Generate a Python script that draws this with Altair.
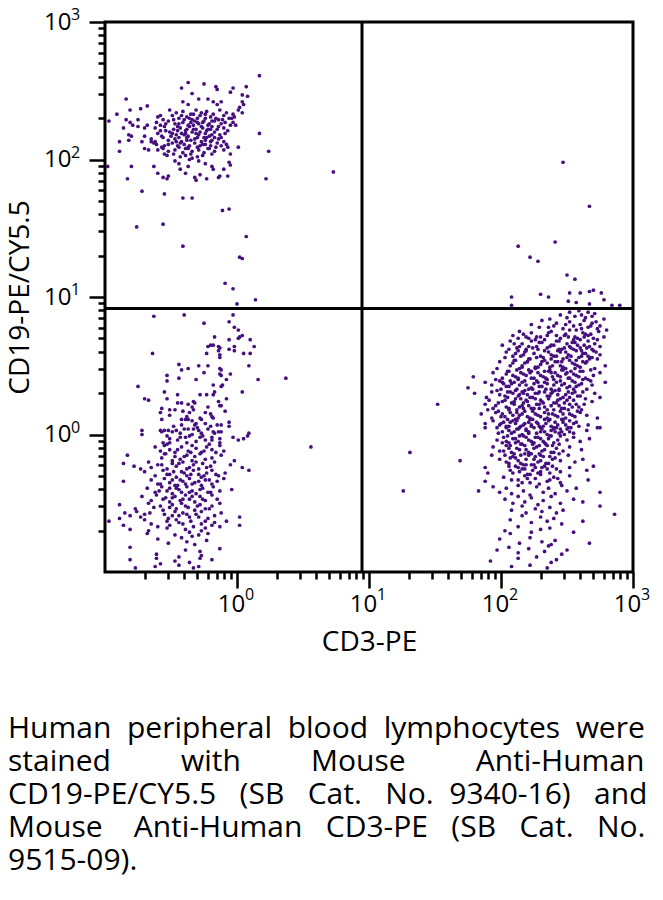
import altair as alt
import pandas as pd

# ---- data: log10 fluorescence x100, pairs (CD3-PE, CD19-PE/CY5.5) ----
b_cells = [
    (17,261),(-37,256),(-25,255),(-16,253),(-15,251),(-3,252),(7,253),(-42,252),(-34,248),(-5,249),(4,247),(8,246),
    (-84,244),(-41,242),(-37,240),(-29,244),(-22,244),(-18,242),(-15,240),(-12,242),(-68,239),(-73,237),(-81,236),
    (-91,233),(-97,228),(4,242),(5,240),(1,236),(2,238),(4,234),(-3,233),(-2,231),(-3,227),(-1,225),(17,219),(24,206),
    (1,209),(22,186),(-98,195),(-83,186),(-80,195),(-72,177),(-55,175),(-41,172),(-34,172),(-6,164),(-89,213),(-89,206),
    (-86,223),(-84,229),(-81,227),(-79,225),(-75,229),(-75,224),(-82,218),(-82,214),(-80,217),(-70,223),(-68,225),
    (-70,217),(-72,213),(-63,195),(-60,190),(-56,187),(-53,186),(-52,188),(-70,208),(-67,207),(-63,212),(-65,213),
    (-60,207),(-57,209),(-55,204),(-47,199),(-44,197),(-43,193),(-37,195),(-32,187),(-28,189),(-23,186),(-31,185),
    (-39,190),(-36,200),(-34,201),(-29,199),(-24,197),(-19,195),(-18,193),(-14,187),(-13,188),(-10,193),(-6,198),
    (-5,196),(-7,188),(-10,207),(-7,209),(-5,204),
    (-51,236),(-46,234),(-41,235),(-35,233),(-31,236),(-27,234),(-23,235),(-18,233),(-13,236),(-8,234),
    (-60,231),(-56,229),(-49,232),(-44,230),(-38,231),(-34,229),(-28,232),(-24,230),(-20,231),(-14,229),(-10,232),(-6,230),
    (-61,227),(-58,225),(-52,228),(-47,226),(-41,227),(-37,225),(-32,228),(-29,226),(-26,227),(-22,225),(-17,228),
    (-12,226),(-9,227),(-5,225),
    (-62,223),(-58,221),(-55,224),(-48,222),(-43,223),(-39,221),(-36,224),(-31,222),(-26,223),(-23,221),(-19,224),
    (-15,222),(-10,223),(-7,221),
    (-60,219),(-57,217),(-51,220),(-46,218),(-42,219),(-37,217),(-34,220),(-29,218),(-24,219),(-21,217),(-17,220),
    (-13,218),(-9,219),
    (-65,215),(-62,213),(-56,216),(-52,214),(-47,215),(-42,213),(-38,216),(-35,214),(-32,215),(-27,213),(-23,216),
    (-19,214),(-14,215),(-10,213),
    (-61,211),(-55,210),(-49,212),(-45,210),(-40,211),(-36,210),(-32,212),(-28,210),(-24,211),(-20,210),(-15,212),(-12,210),
    (-56,208),(-52,206),(-47,207),(-41,205),(-37,208),(-34,206),(-29,207),(-25,205),(-21,208),(-17,206),
    (-53,203),(-48,204),(-43,202),(-39,203),(-35,204),(-30,202),(-26,203),(-19,204),
    (-44,226),(-40,229),(-35,227),(-30,230),(-25,228),(-21,226),(-16,230),(-45,221),(-40,218),(-33,222),(-28,220),
    (-22,222),(-17,216),(-43,212),(-38,214),(-30,216),(-26,211),(-20,213),(-50,217),(-54,221),(-33,233),(-37,209),
    (-22,208),(-44,209),
    (-48,229),(-42,232),(-36,230),(-30,227),(-24,233),(-19,228),(-11,229),(-54,226),(-45,224),(-38,222),(-33,225),
    (-27,224),(-20,222),(-14,224),(-49,219),(-44,216),(-39,219),(-31,219),(-25,216),(-19,218),(-12,216),(-52,211),
    (-46,213),(-39,208),(-30,209),(-24,214),(-16,209),(-8,211),(-58,232),(-4,230),
    (7,144),(2,129),(4,128),(-3,106),(14,98),(0,95),(-76,151),(-56,153),(-41,137),(-11,163),(-9,110),(73,191),
]

double_negative = [
    (-63,86),(-40,87),(-3,87),(-25,81),(-6,82),(-2,78),(1,76),(2,71),(4,72),(-17,71),(1,70),(-6,69),(10,69),(-20,65),
    (-18,65),(-22,64),(-14,64),(-13,63),(-6,62),(-2,61),(-2,64),(-14,61),(-13,58),(-13,56),(-23,59),(5,59),(10,59),
    (13,64),(-64,59),(-44,51),(-42,47),(-37,48),(-29,50),(-22,50),(-25,45),(-13,48),(-12,47),(-13,44),(-12,43),(-5,44),
    (-8,40),(9,50),(16,40),(-53,43),(-53,39),(-44,41),(-31,40),(-18,36),(-11,36),(-12,35),(-75,35),(-55,31),(-17,31),
    (4,31),(-70,26),(-67,25),(-53,26),(-45,29),(-45,23),(-42,23),(-37,22),(-33,24),(-32,23),(-28,29),(-23,29),(-18,29),
    (-8,26),(-14,24),(-13,21),(-57,19),(-51,18),(-47,18),(-58,16),(-41,17),(-33,18),(-34,20),(-22,20),(-24,16),(-12,21),
    (-9,17),(-51,14),(-38,13),(-36,16),(-28,12),(-27,11),(-20,15),(-19,13),(-18,12),(-57,11),(-42,11),(-39,11),(-37,11),
    (-34,10),(-32,7),(-31,8),(-42,7),(-24,8),(-20,6),(-15,7),(-12,7),(-6,9),(-6,6),(-72,3),(-58,3),(-55,3),(-52,3),
    (-49,2),(-46,3),(-37,4),(-33,4),(-27,1),(-18,2),(-14,2),(-12,2),(9,1),
    (-72,0),(-57,2),(-53,-1),(-51,-3),(-43,1),(-39,-2),(-34,0),(-29,3),(-26,-1),(-19,-2),(-17,1),(-13,-3),(-3,-2),
    (1,-4),(5,-3),(8,-1),(-56,-6),(-53,-7),(-51,-6),(-43,-2),(-36,-1),(-31,-5),(-24,-4),(-19,-4),(-13,-6),
    (-62,-9),(-58,-12),(-55,-8),(-51,-11),(-47,-13),(-42,-9),(-37,-12),(-34,-8),(-31,-10),(-27,-13),(-23,-9),(-19,-11),
    (-13,-8),(-10,-12),
    (-83,-15),(-57,-17),(-55,-14),(-49,-19),(-47,-16),(-43,-18),(-38,-15),(-34,-19),(-32,-16),(-28,-14),(-24,-18),
    (-19,-17),(-12,-15),(-2,-19),
    (-86,-21),(-78,-23),(-73,-25),(-67,-20),(-65,-24),(-60,-22),(-53,-25),(-49,-21),(-46,-23),(-41,-20),(-36,-24),
    (-33,-22),(-29,-25),(-26,-21),(-20,-23),(-17,-20),(-5,-22),(4,-24),(9,-26),
    (-70,-27),(-62,-30),(-56,-26),(-51,-29),(-46,-31),(-42,-27),(-38,-30),(-33,-26),(-29,-29),(-27,-31),(-23,-28),
    (-19,-26),(-14,-30),(-9,-28),
    (-86,-34),(-65,-33),(-58,-36),(-55,-32),(-51,-35),(-47,-37),(-43,-33),(-39,-36),(-36,-32),(-32,-35),(-27,-37),
    (-24,-33),(-19,-36),(-15,-34),(-10,-32),
    (-68,-39),(-62,-42),(-57,-38),(-53,-41),(-49,-43),(-46,-39),(-42,-42),(-38,-38),(-34,-41),(-31,-43),(-26,-39),
    (-22,-42),(-18,-38),(-13,-41),(-4,-40),
    (-72,-45),(-65,-48),(-61,-44),(-56,-47),(-51,-49),(-47,-45),(-43,-48),(-39,-44),(-36,-47),(-32,-49),(-28,-45),
    (-24,-48),(-19,-44),(-15,-47),
    (-89,-51),(-77,-54),(-67,-50),(-63,-53),(-56,-55),(-49,-51),(-46,-54),(-42,-50),(-37,-53),(-32,-55),(-28,-51),
    (-24,-54),(-19,-52),(-13,-50),
    (-89,-61),(-85,-57),(-81,-59),(-76,-56),(-73,-60),(-70,-58),(-66,-57),(-52,-61),(-47,-56),(-44,-59),(-41,-57),
    (-36,-60),(-31,-58),(-27,-56),(-22,-61),(-17,-59),(-12,-57),(2,-60),
    (-97,-63),(-86,-66),(-70,-62),(-65,-65),(-60,-67),(-53,-63),(-51,-66),(-46,-62),(-41,-65),(-33,-67),(-24,-63),
    (-19,-66),(-17,-64),(-13,-67),(-8,-63),(2,-66),
    (-81,-69),(-68,-72),(-67,-70),(-53,-68),(-47,-73),(-39,-69),(-36,-71),(-29,-73),(-27,-70),(-24,-68),(-22,-72),
    (-60,-76),(-52,-79),(-42,-75),(-38,-78),(-34,-74),(-32,-80),(-23,-77),
    (-81,-82),(-61,-87),(-39,-84),(-28,-85),(-27,-88),(-13,-83),
    (-81,-91),(-61,-90),(-58,-94),(-47,-92),(-44,-89),(-36,-93),(-28,-90),(-19,-91),(-77,-97),(-62,-96),(-44,-95),
    (-33,-97),(-29,-96),
    (-48,6),(-40,4),(-30,5),(-22,4),(-45,-4),(-38,-6),(-28,-2),(-21,-7),(-54,-14),(-45,-11),(-40,-16),(-35,-13),
    (-25,-12),(-16,-13),(-57,-22),(-44,-21),(-38,-25),(-31,-20),(-23,-24),(-53,-29),(-48,-27),(-40,-28),(-35,-29),
    (-25,-30),(-16,-29),(-60,-36),(-49,-33),(-45,-37),(-41,-34),(-34,-36),(-29,-34),(-21,-33),(-59,-41),(-51,-39),
    (-44,-40),(-36,-42),(-28,-40),(-20,-42),(-54,-46),(-49,-46),(-41,-47),(-34,-45),(-26,-47),(-58,-52),(-51,-53),
    (-39,-52),(-30,-52),(-21,-54),(-55,-58),(-49,-59),(-38,-58),(-29,-60),(-44,-64),(-35,-63),(-27,-65),
    (37,41),(56,-9),
]

t_cells = [
    (208,100),(230,102),(252,103),(260,103),(267,104),(270,105),(276,103),(208,94),(251,97),(257,96),(267,95),
    (278,98),(284,94),(290,94),(247,198),(267,166),(241,140),(213,137),(222,129),(228,126),(250,116),(256,113),(236,100),
    (252,89),(256,86),(259,90),(261,87),(264,85),(266,89),(269,86),(271,88),(237,84),(245,87),(250,85),(278,84),
    (223,80),(231,83),(236,78),(242,81),(247,77),(252,82),(255,79),(257,76),(260,80),(263,83),(266,78),(269,81),
    (273,77),(275,79),(280,76),
    (209,72),(214,75),(221,70),(223,74),(230,71),(233,69),(238,75),(242,72),(245,70),(249,73),(252,76),(256,71),
    (260,69),(262,74),(266,72),(270,70),(274,75),(278,71),
    (201,65),(207,68),(212,63),(216,66),(219,62),(223,68),(227,64),(231,67),(235,63),(238,65),(242,68),(246,62),
    (250,66),(252,64),(256,67),(260,63),(263,65),(266,68),(269,62),(271,66),(275,64),
    (204,60),(209,57),(213,61),(217,58),(221,55),(225,59),(228,62),(232,56),(236,60),(240,57),(243,61),(247,55),
    (251,58),(255,62),(259,56),(262,59),(266,57),(270,61),(273,55),(275,58),
    (199,53),(207,50),(211,54),(214,48),(218,52),(222,55),(226,49),(230,51),(233,54),(237,47),(241,53),(245,50),
    (249,48),(252,54),(256,51),(260,49),(264,52),(267,55),(271,48),(279,50),
    (179,42),(194,45),(201,41),(206,46),(209,43),(213,40),(217,44),(221,47),(225,41),(228,45),(232,42),(236,46),
    (240,40),(243,43),(247,47),(251,41),(255,44),(259,42),(262,46),(266,40),(270,43),(275,45),
    (175,34),(188,38),(193,36),(199,39),(204,35),(208,37),(212,33),(216,38),(219,36),(223,34),(227,39),(231,35),
    (235,37),(238,33),(242,38),(246,36),(250,34),(254,39),(257,35),(261,37),(265,33),(269,36),(279,38),
    (180,30),(189,27),(197,32),(203,28),(207,31),(211,26),(214,29),(218,32),(222,27),(226,30),(230,25),(233,31),
    (237,28),(241,32),(245,26),(249,29),(252,27),(256,31),(260,28),(264,26),(271,30),(275,27),
    (188,22),(194,19),(201,24),(204,20),(208,23),(212,18),(216,21),(219,25),(223,19),(227,22),(231,24),(235,18),
    (238,21),(242,23),(246,19),(250,25),(254,20),(257,22),(261,18),(269,24),
    (185,15),(193,12),(198,17),(203,13),(207,16),(211,11),(214,14),(218,17),(222,12),(226,15),(230,13),(233,16),
    (237,11),(241,14),(245,17),(249,12),(252,15),(256,13),(260,16),(265,14),(273,12),
    (188,8),(197,5),(202,9),(206,6),(209,10),(213,4),(217,7),(221,9),(225,5),(228,8),(232,6),(236,10),(240,4),
    (243,7),(247,9),(251,5),(255,8),(259,6),(266,7),(275,5),
    (217,73),(227,71),(236,74),(248,72),(258,70),(264,73),
    (210,66),(221,64),(229,67),(240,65),(248,63),(254,67),(258,65),(265,63),
    (211,59),(219,61),(230,57),(238,58),(245,60),(253,57),(257,61),(264,59),(268,56),
    (209,52),(216,50),(220,53),(228,49),(235,52),(239,50),(243,53),(247,49),(254,52),(258,50),(262,53),
    (204,44),(211,42),(215,45),(219,43),(223,46),(230,43),(234,41),(238,45),(245,42),(249,44),(253,46),(257,43),(264,41),
    (202,37),(206,35),(210,38),(214,36),(221,33),(225,37),(229,35),(233,38),(240,36),(244,33),(248,37),(252,35),(259,36),
    (199,29),(205,27),(209,30),(213,28),(216,31),(220,29),(224,27),(228,30),(235,28),(239,31),(243,29),(247,27),
    (254,30),(258,28),
    (196,21),(206,19),(210,22),(214,20),(217,23),(221,21),(225,19),(229,22),(233,20),(240,23),(244,21),(248,19),
    (252,22),(259,20),
    (200,13),(205,11),(209,14),(213,12),(216,15),(220,13),(224,11),(228,14),(235,12),(239,15),(243,13),(247,11),(254,14),
    (199,7),(204,5),(211,8),(215,6),(219,4),(223,7),(230,5),(234,8),(238,6),(245,4),(249,7),(253,5),
    (229,78),(240,79),(249,80),(261,77),(268,79),(272,82),
    (213,70),(219,71),(226,69),(235,72),(244,68),(251,71),(255,69),(263,71),(268,73),(273,69),
    (206,62),(214,64),(218,60),(224,63),(233,61),(237,64),(244,62),(249,60),(253,63),(261,61),(267,64),(272,60),
    (203,56),(210,54),(215,57),(220,53),(227,56),(231,53),(238,55),(242,57),(246,53),(250,56),(257,54),(261,57),
    (265,53),(269,56),
    (197,48),(205,46),(212,47),(216,49),(222,45),(226,48),(233,46),(237,49),(241,45),(246,47),(250,45),(256,48),
    (260,46),(268,47),
    (196,40),(201,38),(207,39),(213,41),(218,39),(223,41),(228,38),(235,40),(239,42),(245,39),(252,41),(256,38),
    (262,40),(268,39),
    (193,31),(200,33),(205,31),(211,32),(217,30),(224,33),(229,31),(234,33),(238,30),(244,32),(251,31),(255,33),(262,31),
    (191,25),(198,23),(203,25),(210,24),(215,26),(220,24),(226,26),(232,23),(236,26),(243,25),(248,23),(255,25),(263,22),
    (190,18),(196,16),(201,15),(206,18),(212,16),(217,19),(224,17),(229,19),(236,15),(240,18),(247,15),(251,18),(258,17),
    (194,10),(200,8),(207,9),(212,10),(218,8),(222,11),(227,9),(233,11),(241,9),(246,11),(252,10),(257,9),
    (198,1),(205,-1),(210,2),(214,-1),(221,1),(226,-2),(230,2),(237,-1),(241,2),(248,0),(252,2),
    (201,-6),(207,-8),(211,-6),(218,-8),(224,-7),(229,-8),(233,-6),(239,-8),(244,-7),
    (203,-15),(207,-17),(215,-15),(218,-14),(226,-16),(230,-15),(237,-16),(244,-14),
    (206,-23),(213,-24),(219,-22),(225,-22),(231,-24),(239,-23),
    (208,-33),(216,-35),(220,-32),(229,-36),(237,-33),(243,-32),
    (188,5),(201,2),(204,6),(208,1),(212,4),(216,0),(219,3),(223,6),(227,1),(231,4),(235,0),(238,3),(242,5),(246,2),
    (250,4),(255,1),(265,3),(273,5),
    (180,-1),(197,-4),(202,-2),(206,-6),(209,-3),(213,-5),(217,-1),(221,-4),(225,-6),(228,-2),(232,-5),(236,-3),
    (240,-6),(245,-1),(250,-4),(255,-2),(260,-5),(267,-3),
    (194,-9),(199,-12),(204,-8),(208,-13),(212,-10),(216,-7),(219,-11),(223,-14),(227,-9),(231,-12),(235,-8),
    (238,-13),(242,-10),(247,-12),(252,-9),(261,-11),
    (169,-19),(193,-15),(199,-18),(206,-21),(209,-16),(213,-19),(217,-22),(221,-15),(225,-18),(228,-20),(232,-16),
    (236,-21),(241,-17),(245,-19),(251,-15),(256,-20),(262,-18),
    (188,-24),(190,-28),(207,-26),(211,-23),(214,-27),(218,-25),(222,-29),(226,-24),(230,-27),(233,-23),(237,-28),
    (242,-25),(245,-27),(252,-24),(265,-26),(270,-23),
    (188,-34),(202,-31),(213,-33),(218,-30),(222,-35),(226,-32),(230,-29),(235,-34),(240,-31),(245,-35),(252,-30),(266,-33),
    (183,-41),(194,-38),(199,-42),(204,-39),(208,-43),(213,-37),(217,-41),(222,-44),(227,-38),(232,-42),(236,-39),
    (241,-43),(246,-37),(250,-41),(257,-39),(275,-42),
    (203,-47),(209,-50),(213,-45),(218,-49),(223,-46),(228,-51),(232,-48),(238,-45),(245,-50),(255,-47),(262,-49),(275,-52),
    (208,-55),(216,-52),(219,-57),(226,-54),(231,-56),(237,-53),(242,-57),(247,-55),(286,-58),
    (207,-62),(216,-59),(223,-64),(230,-60),(235,-63),(240,-61),(246,-65),(262,-63),
    (203,-70),(207,-72),(213,-67),(223,-71),(230,-69),(237,-68),(255,-71),
    (199,-76),(214,-79),(222,-75),(231,-78),(238,-80),(241,-77),(267,-79),
    (197,-84),(206,-82),(213,-86),(221,-83),(233,-85),(236,-81),(246,-87),(250,-84),
    (192,-92),(208,-96),(213,-90),(222,-95),(227,-89),(235,-97),(238,-93),(242,-91),
    (206,3),(214,5),(221,2),(229,6),(233,2),(240,5),(244,1),
    (204,-5),(211,-3),(215,-7),(219,-2),(223,-5),(230,-3),(234,-7),(238,-1),(243,-4),
    (202,-12),(206,-10),(210,-14),(214,-11),(221,-13),(225,-10),(229,-14),(233,-11),(240,-13),
    (204,-20),(211,-17),(215,-21),(219,-18),(223,-22),(230,-19),(234,-21),(239,-18),
    (209,-28),(216,-25),(220,-29),(224,-26),(228,-28),(235,-25),
    (152,22),(131,-13),(126,-41),
]

# quadrant gates
cd3_gate = [8.85]
cd19_gate = [8.24]

# axis ticks
major_ticks = [1, 10, 100, 1000]
major_exponents = ["0", "1", "2", "3"]
minor_ticks = [m * d for d in (0.1, 1, 10, 100) for m in range(2, 10)]
tick_values = sorted(set([round(v, 6) for v in minor_ticks + major_ticks]))

caption_lines_words = [
    ["Human", "peripheral", "blood", "lymphocytes", "were"],
    ["stained", "with", "Mouse", "Anti-Human"],
    ["CD19-PE/CY5.5", "(SB", "Cat.", "No.", "9340-16)", "and"],
    ["Mouse", "Anti-Human", "CD3-PE", "(SB", "Cat.", "No."],
    ["9515-09)."],
]
caption_gaps = [
    [2, 2, 2, 2],
    [9, 9, 9],
    [3, 3, 3, 2, 3, 3],
    [4, 3, 3, 3, 3],
    [],
]

# ---- build ----
rows = []
for pop, pts in (("B", b_cells), ("DN", double_negative), ("T", t_cells)):
    for lx, ly in pts:
        rows.append({"pop": pop, "CD3": 10 ** (lx / 100.0), "CD19": 10 ** (ly / 100.0)})
df = pd.DataFrame(rows)

nb = "\u00a0"
caption = []
for words, gaps in zip(caption_lines_words, caption_gaps):
    s = words[0]
    for w, g in zip(words[1:], gaps):
        s += nb * g + w
    caption.append(s)

FONT = "Open Sans"
PURPLE = "#46107f"
is_major = "abs(log(datum.value)/LN10 - round(log(datum.value)/LN10)) < 0.01"
label_expr = f"({is_major}) ? '10' : ''"
tick_size = {"condition": {"test": is_major, "value": 16}, "value": 7}

x_scale = alt.Scale(type="log", domain=[0.1, 1000], nice=False)
y_scale = alt.Scale(type="log", domain=[0.1, 1000], nice=False)

x_axis = alt.Axis(values=tick_values, labelExpr=label_expr, tickSize=tick_size, labelOverlap=False,
                  labelFlush=False, labelFontSize=24, labelPadding=4, labelOffset=-6, title="CD3-PE",
                  titleFontSize=28, titleFontWeight="normal", titlePadding=12)
y_axis = alt.Axis(values=tick_values, labelExpr=label_expr, tickSize=tick_size, labelOverlap=False,
                  labelFlush=False, labelFontSize=24, labelPadding=18, title="CD19-PE/CY5.5", titleFontSize=28,
                  titleFontWeight="normal", titlePadding=9)

points = alt.Chart(df).mark_circle(size=14, color=PURPLE, opacity=1).encode(
    x=alt.X("CD3:Q", scale=x_scale, axis=x_axis),
    y=alt.Y("CD19:Q", scale=y_scale, axis=y_axis),
)

vrule = alt.Chart(pd.DataFrame({"CD3": cd3_gate})).mark_rule(color="black", strokeWidth=3).encode(
    x=alt.X("CD3:Q", scale=x_scale)
)
hrule = alt.Chart(pd.DataFrame({"CD19": cd19_gate})).mark_rule(color="black", strokeWidth=3).encode(
    y=alt.Y("CD19:Q", scale=y_scale)
)

exp_df = pd.DataFrame({"v": major_ticks, "exp": major_exponents})
x_exp = alt.Chart(exp_df).mark_text(font=FONT, fontSize=16, align="left", baseline="middle", dx=8,
                                    color="black").encode(
    x=alt.X("v:Q", scale=x_scale), y=alt.value(573), text="exp:N"
)
y_exp = alt.Chart(exp_df).mark_text(font=FONT, fontSize=16, align="left", baseline="middle", dy=-7,
                                    color="black").encode(
    y=alt.Y("v:Q", scale=y_scale), x=alt.value(-34), text="exp:N"
)

chart = alt.layer(points, vrule, hrule, x_exp, y_exp).properties(
    width=528,
    height=550,
    autosize=alt.AutoSizeParams(type="none"),
    padding={"left": 97, "top": 14, "right": 22, "bottom": 330},
    title=alt.TitleParams(text=caption, orient="bottom", anchor="start", frame="group", dx=-97, offset=58,
                          fontSize=30, font=FONT, fontWeight="normal", color="black", lineHeight=33),
).configure_view(stroke="black", strokeWidth=3).configure_axis(
    domain=False, grid=False, tickColor="black", tickWidth=2.5, labelColor="black", titleColor="black",
    labelFont=FONT, titleFont=FONT,
)

chart.save("out.html", embed_options={"renderer": "svg", "actions": False})
